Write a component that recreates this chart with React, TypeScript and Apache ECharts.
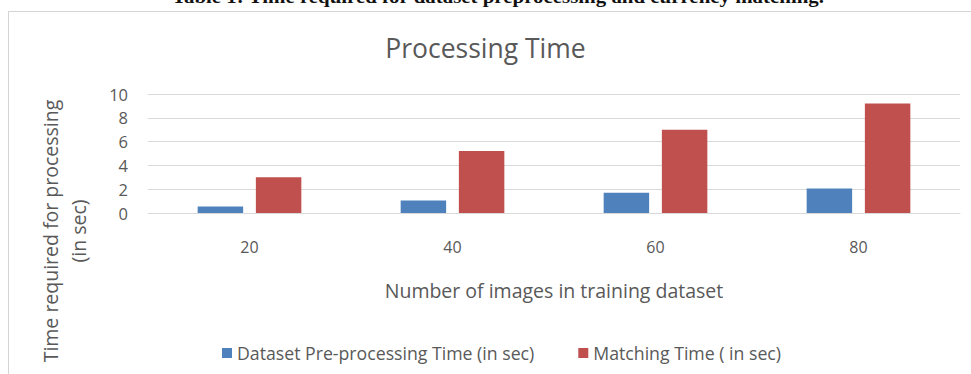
import React, { useEffect, useRef } from "react";
import * as echarts from "echarts";

const categories = ["20", "40", "60", "80"];
const preprocessingTime = [0.55, 1.05, 1.7, 2.05];
const matchingTime = [3.0, 5.2, 7.0, 9.2];
const seriesNames = ["Dataset Pre-processing Time (in sec)", "Matching Time ( in sec)"];

const FONT = "'Open Sans', 'Noto Sans', sans-serif";
const TEXT = "#595959";
const GRID_LINE = "#d9d9d9";

export default function App() {
  const ref = useRef<HTMLDivElement>(null);

  useEffect(() => {
    if (!ref.current) return;
    const chart = echarts.init(ref.current, undefined, { renderer: "svg" });
    chart.setOption({
      animation: false,
      backgroundColor: "#ffffff",
      textStyle: { fontFamily: FONT },
      title: {
        text: "Processing Time",
        left: "center",
        top: 29,
        textStyle: { fontFamily: FONT, fontSize: 26.5, fontWeight: "normal", color: TEXT },
      },
      legend: {
        data: seriesNames,
        left: 217,
        top: 339,
        icon: "rect",
        itemWidth: 10,
        itemHeight: 10,
        itemGap: 44,
        textStyle: { fontFamily: FONT, fontSize: 17.7, color: TEXT },
      },
      grid: { left: 148, right: 11, top: 94, bottom: 161, containLabel: false },
      xAxis: {
        type: "category",
        data: categories,
        axisTick: { show: false },
        axisLine: { lineStyle: { color: GRID_LINE, width: 1 } },
        axisLabel: { margin: 26, fontFamily: FONT, fontSize: 16, color: TEXT },
        name: "Number of images in training dataset",
        nameLocation: "middle",
        nameGap: 67,
        nameTextStyle: { fontFamily: FONT, fontSize: 19.5, color: TEXT },
      },
      yAxis: {
        type: "value",
        min: 0,
        max: 10,
        interval: 2,
        axisLine: { show: false },
        axisTick: { show: false },
        splitLine: { lineStyle: { color: GRID_LINE, width: 1 } },
        axisLabel: { margin: 20, fontFamily: FONT, fontSize: 16.5, color: TEXT },
      },
      series: [
        {
          name: seriesNames[0],
          type: "bar",
          data: preprocessingTime,
          barWidth: "22.4%",
          barGap: "28%",
          itemStyle: { color: "#4f81bd" },
        },
        {
          name: seriesNames[1],
          type: "bar",
          data: matchingTime,
          barWidth: "22.4%",
          barGap: "28%",
          itemStyle: { color: "#c0504d" },
        },
      ],
      graphic: [
        {
          type: "text",
          x: 498,
          y: 6,
          scaleX: 1.1,
          style: {
            text: "Table 1: Time required for dataset preprocessing and currency matching.",
            font: "bold 19px 'Liberation Serif', 'Times New Roman', serif",
            fill: "#111111",
            align: "center",
            verticalAlign: "bottom",
          },
        },
        {
          type: "line",
          shape: { x1: 8, y1: 11.5, x2: 971, y2: 11.5 },
          style: { stroke: "#d4d4d4", lineWidth: 1 },
        },
        {
          type: "line",
          shape: { x1: 8.5, y1: 11.5, x2: 8.5, y2: 374 },
          style: { stroke: "#d4d4d4", lineWidth: 1 },
        },
        {
          type: "text",
          x: 64,
          y: 231,
          rotation: Math.PI / 2,
          style: {
            text: "Time required for processing\n(in sec)",
            font: `19.5px ${FONT}`,
            fill: TEXT,
            align: "center",
            verticalAlign: "middle",
            lineHeight: 28,
          },
        },
      ],
    });
    return () => chart.dispose();
  }, []);

  return (
    <div
      ref={ref}
      style={{ position: "fixed", left: 0, top: 0, width: 971, height: 374 }}
    />
  );
}
